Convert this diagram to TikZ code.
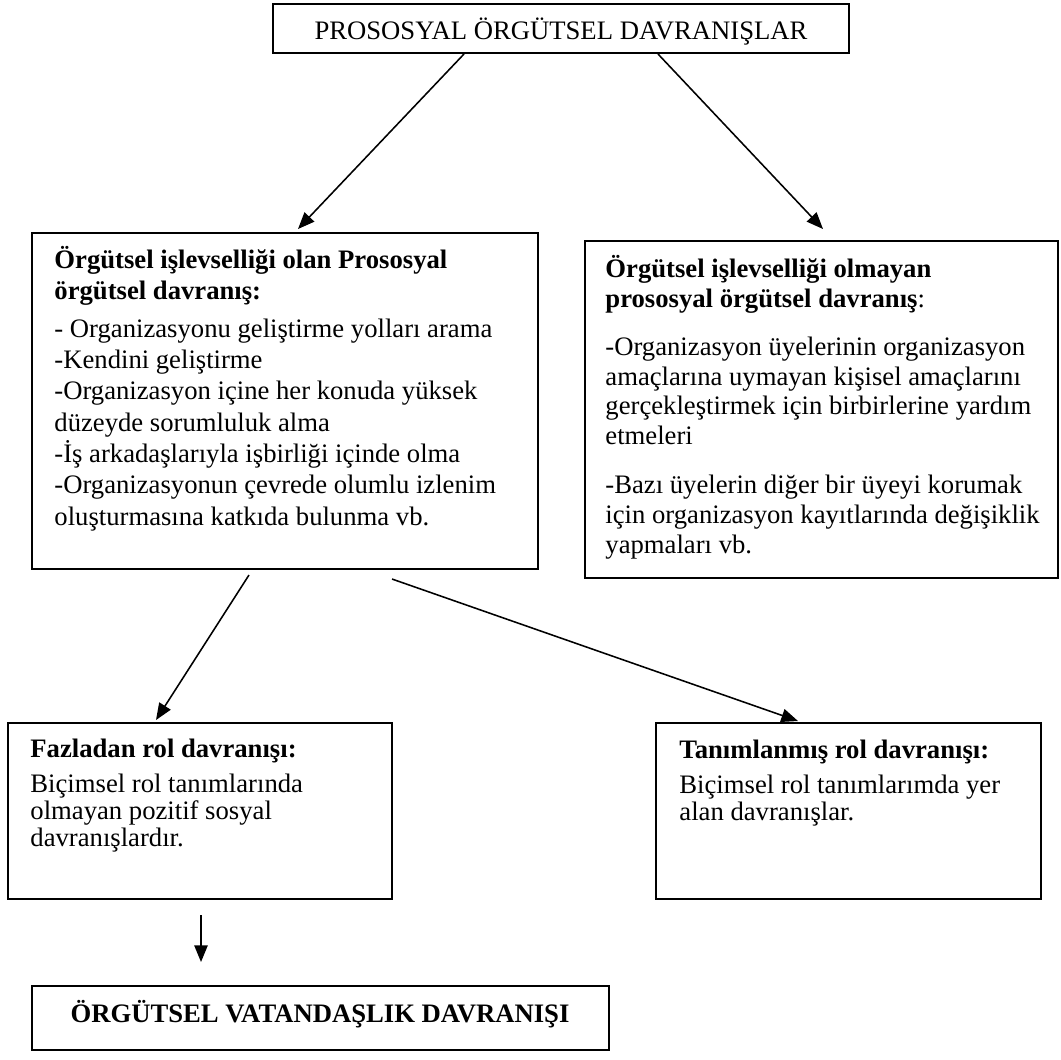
\documentclass[tikz,border=0pt]{standalone}
\usepackage{fontspec}
\setmainfont{Liberation Serif}
\usetikzlibrary{arrows.meta,calc,fit}

\begin{document}
\begin{tikzpicture}[x=0.45pt,y=-0.45pt,
    box/.style={draw,line width=0.9pt,inner sep=0pt},
    txt/.style={anchor=base west,align=left,inner sep=0pt,
                font=\fontsize{12}{14}\selectfont},
    arr/.style={-{Triangle[length=7.5pt,width=6pt]},line width=0.7pt}]
  \useasboundingbox (0,0) rectangle (1061,1059);

  % boxes
  \node[box,fit={(273,4) (849,53)}]      (top)   {};
  \node[box,fit={(32,233) (538,569)}]    (olan)  {};
  \node[box,fit={(585,241) (1058,578)}]  (olmayan) {};
  \node[box,fit={(8,723) (392,899)}]     (fazla) {};
  \node[box,fit={(656,723) (1041,899)}]  (tanim) {};
  \node[box,fit={(32,986) (609,1050)}]   (ovd)   {};

  % texts (placed at the baseline of their last line)
  \node[txt,anchor=base] (toptxt) at (561,39) {PROSOSYAL ÖRGÜTSEL DAVRANIŞLAR};
  \node[txt,font=\fontsize{12}{14.1}\selectfont] (olantxt) at (54,525)
    {\textbf{Örgütsel işlevselliği olan Prososyal}\\
     \textbf{örgütsel davranış:}\\[2.7pt]
     - Organizasyonu geliştirme yolları arama\\
     -Kendini geliştirme\\
     -Organizasyon içine her konuda yüksek\\
     düzeyde sorumluluk alma\\
     -İş arkadaşlarıyla işbirliği içinde olma\\
     -Organizasyonun çevrede olumlu izlenim\\
     oluşturmasına katkıda bulunma vb.};
  \node[txt,font=\fontsize{12}{13.3}\selectfont] (olmayantxt) at (605,553)
    {\textbf{Örgütsel işlevselliği olmayan}\\
     \textbf{prososyal örgütsel davranış}:\\[8.5pt]
     -Organizasyon üyelerinin organizasyon\\
     amaçlarına uymayan kişisel amaçlarını\\
     gerçekleştirmek için birbirlerine yardım\\
     etmeleri\\[9pt]
     -Bazı üyelerin diğer bir üyeyi korumak\\
     için organizasyon kayıtlarında değişiklik\\
     yapmaları vb.};
  \node[txt,font=\fontsize{12}{12}\selectfont] (fazlatxt) at (30,846)
    {\textbf{Fazladan rol davranışı:}\\[3.8pt]
     Biçimsel rol tanımlarında\\
     olmayan pozitif sosyal\\
     davranışlardır.};
  \node[txt,font=\fontsize{12}{12}\selectfont] (tanimtxt) at (679,820)
    {\textbf{Tanımlanmış rol davranışı:}\\[3.8pt]
     Biçimsel rol tanımlarımda yer\\
     alan davranışlar.};
  \node[txt,anchor=base] (ovdtxt) at (320,1022) {\textbf{ÖRGÜTSEL VATANDAŞLIK DAVRANIŞI}};

  % arrows
  \path[arr] ($(top.south)+(-97,0)$)  edge ($(olan.north)+(13,-3)$)
             ($(top.south)+(97,0)$)   edge ($(olmayan.north)+(1.5,-11)$)
             ($(olan.south)+(-36,5)$) edge ($(fazla.north)+(-44,-2)$)
             ($(olan.south)+(107,9)$) edge ($(tanim.north)+(-50.5,-1)$)
             ($(fazla.south)+(1,15)$) edge ($(ovd.north)+(-119.5,-23)$);
\end{tikzpicture}
\end{document}
